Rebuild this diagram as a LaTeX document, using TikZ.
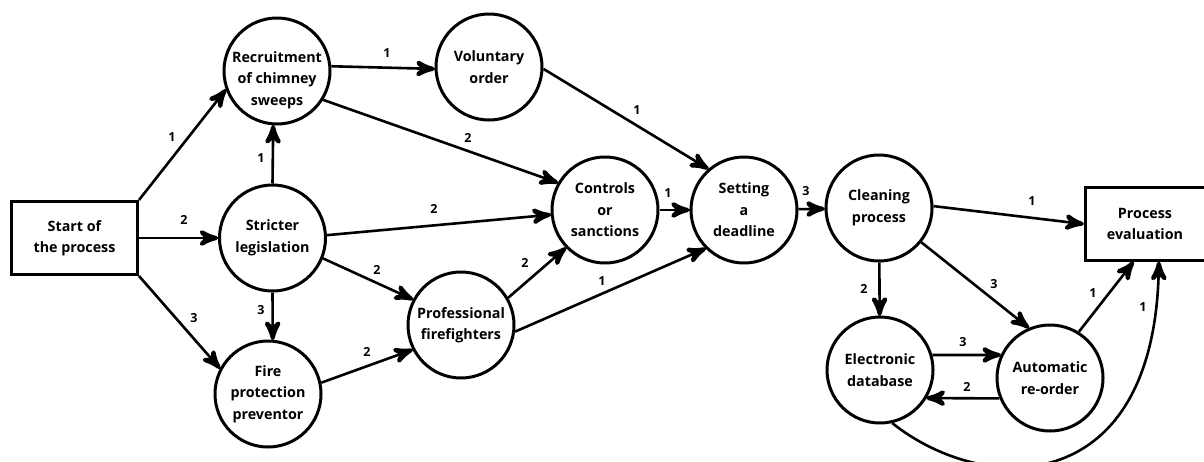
\documentclass[tikz,border=0pt]{standalone}
\usepackage{fontspec}
\setmainfont{Open Sans}
\usetikzlibrary{arrows}
\usetikzlibrary{decorations.markings}
\tikzset{arr/.style = {decoration={markings,
                                   mark=at position 1 with {\arrow[scale=1.65]{stealth'}}},
                       postaction={decorate}}}
\tikzset{arrc/.style = {decoration={markings,
                                    mark=at position 0.9999 with {\arrow[scale=1.65]{stealth'}}},
                        postaction={decorate}}}
\tikzset{txt/.style = {align=center, font=\fontsize{14.3}{21.5}\selectfont\bfseries}}
\tikzset{st/.style = {txt, draw, circle, line width=3pt, minimum size=106pt, inner sep=-4pt}}
\tikzset{box/.style = {txt, draw, rectangle, line width=3pt, minimum width=126pt, minimum height=73pt}}
\tikzset{wt/.style = {inner sep=0, font=\fontsize{12.5}{13}\selectfont\bfseries}}

\begin{document}
\begin{tikzpicture}[x=1pt, y=-1pt, line width=2.6pt]
      \useasboundingbox (0, 0) rectangle (1204, 461);

      \node [box] (start) at (74.5, 238) {Start of\\the process};
      \node [st] (rec) at (277, 71) {};
      \node [txt] (rectext) at (277, 80) {Recruitment\\of chimney\\sweeps};
      \node [st] (stric) at (272.5, 238) {Stricter\\legislation};
      \node [st] (fire) at (268, 394) {Fire\\protection\\preventor};
      \node [st] (vol) at (489, 67) {Voluntary\\order};
      \node [st] (ctrl) at (605, 210) {Controls\\or\\sanctions};
      \node [st] (prof) at (461, 325) {Professional\\firefighters};
      \node [st] (dead) at (744, 210) {Setting\\a\\deadline};
      \node [st] (clean) at (879, 208) {Cleaning\\process};
      \node [box, minimum width=120pt] (eval) at (1145, 224) {Process\\evaluation};
      \node [st] (elec) at (880, 370) {Electronic\\database};
      \node [st] (reorder) at (1050, 378) {Automatic\\re-order};

      \draw [arr] (start.north east) -- (rec.200);
      \draw [arr] (start) -- (stric);
      \draw [arr] (start.south east) -- (fire.152);
      \draw [arr] (stric.north) -- (rec.266);
      \draw [arr] (stric.south) -- (fire.85);
      \draw [arr] (stric.338) -- (prof.152);
      \draw [arr] (stric.3) -- (ctrl.185);
      \draw [arr] (rec.5) -- (vol.182);
      \draw [arr] (rec.328) -- (ctrl.150);
      \draw [arr] (fire.12) -- (prof.207);
      \draw [arr] (vol.358) -- (dead.131);
      \draw [arr] (ctrl) -- (dead);
      \draw [arr] (prof.30) -- (ctrl.224);
      \draw [arr] (prof.353) -- (dead.225);
      \draw [arr] (dead) -- (clean);
      \draw [arr] (clean.2) -- (eval.west);
      \draw [arr] (clean) -- (elec);
      \draw [arr] (clean.321) -- (reorder.113);
      \draw [arr] (elec.16) -- (reorder.155);
      \draw [arr] (reorder.202) -- (elec.329);
      \draw [arr] (reorder.58) -- (eval.253);
      \draw [arrc] (elec.283) .. controls (985, 497) and (1158, 500) .. (eval.290);

      % weights
      \node [wt] (w1) at (172, 137) {1};
      \node [wt] (w2) at (184, 220) {2};
      \node [wt] (w3) at (194, 318) {3};
      \node [wt] (w4) at (261, 158) {1};
      \node [wt] (w5) at (261, 310) {3};
      \node [wt] (w6) at (377, 270) {2};
      \node [wt] (w7) at (434, 209) {2};
      \node [wt] (w8) at (387, 53) {1};
      \node [wt] (w9) at (468, 138) {2};
      \node [wt] (w10) at (367, 352) {2};
      \node [wt] (w11) at (637, 110) {1};
      \node [wt] (w12) at (668, 193) {1};
      \node [wt] (w13) at (525, 263) {2};
      \node [wt] (w14) at (602, 281) {1};
      \node [wt] (w15) at (806, 191) {3};
      \node [wt] (w16) at (1032, 201) {1};
      \node [wt] (w17) at (864, 289) {2};
      \node [wt] (w18) at (994, 284) {3};
      \node [wt] (w19) at (963, 342) {3};
      \node [wt] (w20) at (967, 387) {2};
      \node [wt] (w21) at (1093, 293) {1};
      \node [wt] (w22) at (1143, 307) {1};
    \end{tikzpicture}
\end{document}
